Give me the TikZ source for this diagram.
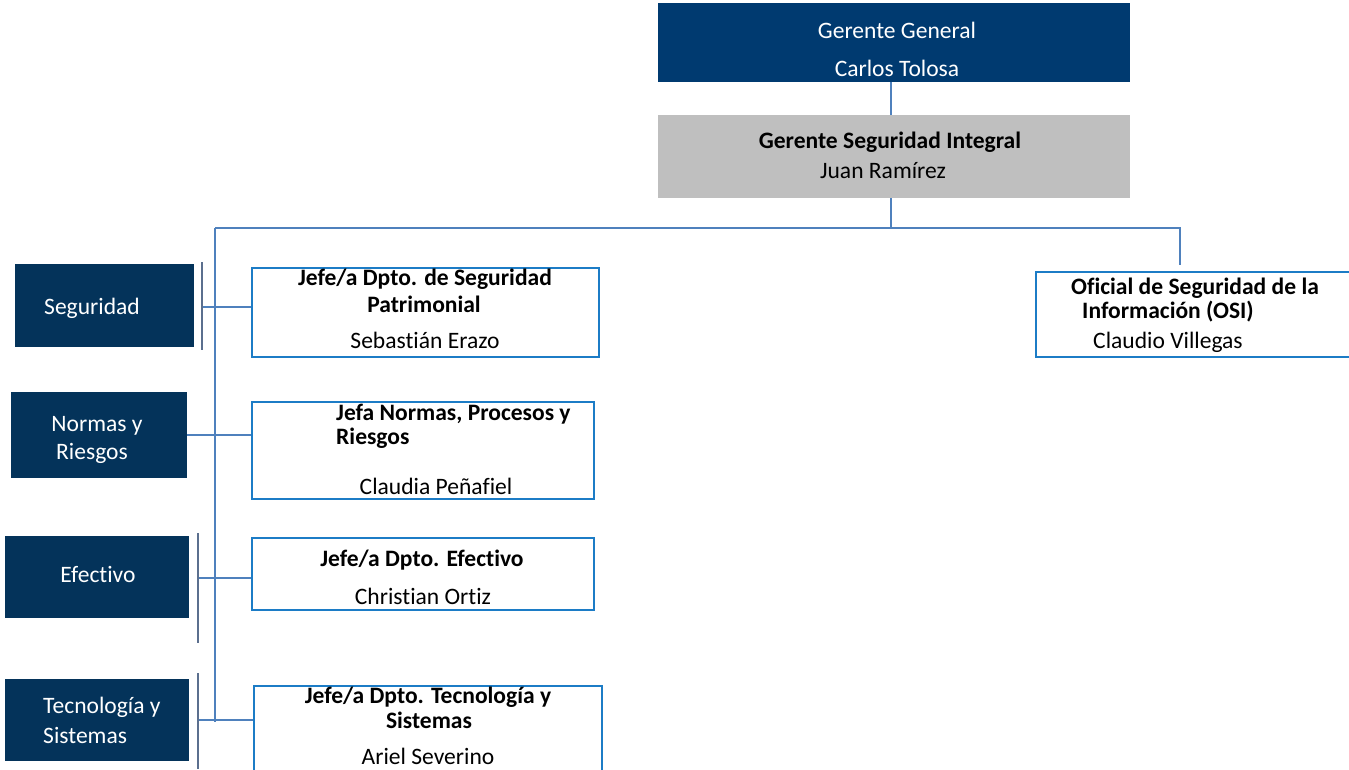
\documentclass[tikz,border=0pt]{standalone}
\usepackage{fontspec}
\setmainfont{Carlito}[Ligatures={NoCommon}]
\usepackage{tikz}
\usetikzlibrary{calc}
\usepackage{xcolor}
\definecolor{ggblue}{HTML}{003A70}
\definecolor{navy}{HTML}{04335A}
\definecolor{gsigray}{HTML}{BFBFBF}
\definecolor{linkblue}{HTML}{4F81BD}
\definecolor{edgeblue}{HTML}{1C7CC6}
\definecolor{barblue}{HTML}{5B6F8E}
\tikzset{
  sz/.style 2 args={minimum width=#1*0.5669pt, minimum height=#2*0.5669pt, inner sep=0pt},
  topbox/.style={fill=ggblue},
  midbox/.style={fill=gsigray},
  areabox/.style={fill=navy},
  jefebox/.style={draw=edgeblue, line width=1.1pt, fill=white},
  link/.style={draw=linkblue, line width=1pt},
  bar/.style={draw=barblue, line width=0.6pt},
  wt/.style={text=white},
  bt/.style={font=\fontsize{13.4}{16}\selectfont\bfseries}
}
\begin{document}
\begin{tikzpicture}[x=0.02cm, y=-0.02cm, every node/.style={font=\fontsize{13.4}{16}\selectfont}]
\useasboundingbox (0,0) rectangle (1349,769);
\node [topbox, sz={474}{79}] (gg) at (894,42.5) {};
\node [midbox, sz={474}{83}] (gsi) at (894,156.5) {};
\node [areabox, sz={179}{83}] (seg) at (104.5,305.5) {};
\node [areabox, sz={176}{86}] (nor) at (99,435) {};
\node [areabox, sz={184}{82}] (efe) at (97,577) {};
\node [areabox, sz={184}{82}] (tec) at (97,720) {};
\node [jefebox, sz={349}{89}] (jseg) at (425.5,312.5) {};
\node [jefebox, sz={344}{97}] (jnor) at (423,450.5) {};
\node [jefebox, sz={344}{72}] (jefe) at (423,574) {};
\node [jefebox, sz={350}{92}] (jtec) at (428,732) {};
\node [jefebox, sz={330}{85}] (osi) at (1200,314.5) {};
\coordinate (bus) at (891,228);
\coordinate (busl) at (215,228);
\coordinate (busr) at (1180,228);
\coordinate (ositop) at (1180,265);
\coordinate (trunkend) at (215,722);
\coordinate (bseg) at (202,307);
\coordinate (befe) at (198,578);
\coordinate (btec) at (198,720);
\draw [link] (gg.south -| bus) -- (gsi.north -| bus);
\draw [link] (gsi.south -| bus) -- (bus);
\draw [link] (busl) -- (busr) -- (ositop);
\draw [link] (busl) -- (trunkend);
\draw [link] (bseg) -- (bseg -| jseg.west);
\draw [link] (nor.east) -- (nor.east -| jnor.west);
\draw [link] (befe) -- (befe -| jefe.west);
\draw [link] (btec) -- (btec -| jtec.west);
\draw [bar] ($(bseg)+(0,-45)$) -- ($(bseg)+(0,43)$);
\draw [bar] ($(befe)+(0,-45)$) -- ($(befe)+(0,65)$);
\draw [bar] ($(btec)+(0,-47)$) -- ($(btec)+(0,49)$);
\node [wt] (gg1) at (897,30) {Gerente General};
\node [wt] (gg2) at (897,68) {Carlos Tolosa};
\node [bt] (gsi1) at (890,142) {Gerente Seguridad Integral};
\node (gsi2) at (883,171) {Juan Ramírez};
\node [wt] (seg1) at (92,308) {Seguridad};
\node [wt] (nor1) at (97,426) {Normas y};
\node [wt] (nor2) at (92,453) {Riesgos};
\node [wt] (efe1) at (98,574) {Efectivo};
\node [wt, anchor=west] (tec1) at (37,707) {Tecnología y};
\node [wt, anchor=west] (tec2) at (37,735) {Sistemas};
\node [bt] (jseg1) at (425,279) {Jefe/a Dpto. de Seguridad};
\node [bt] (jseg2) at (424,304) {Patrimonial};
\node (jseg3) at (425,340) {Sebastián Erazo};
\node [bt, anchor=west] (jnor1) at (330,414) {Jefa Normas, Procesos y};
\node [bt, anchor=west] (jnor2) at (330,438) {Riesgos};
\node (jnor3) at (436,486) {Claudia Peñafiel};
\node [bt] (jefe1) at (422,560) {Jefe/a Dpto. Efectivo};
\node (jefe2) at (423,596) {Christian Ortiz};
\node [bt] (jtec1) at (428,697) {Jefe/a Dpto. Tecnología y};
\node [bt] (jtec2) at (429,720) {Sistemas};
\node (jtec3) at (428,756) {Ariel Severino};
\node [bt, anchor=west] (osi1) at (1065,288) {Oficial de Seguridad de la};
\node [bt, anchor=west] (osi2) at (1076,312) {Información (OSI)};
\node [anchor=west] (osi3) at (1087,342) {Claudio Villegas};
\end{tikzpicture}
\end{document}
